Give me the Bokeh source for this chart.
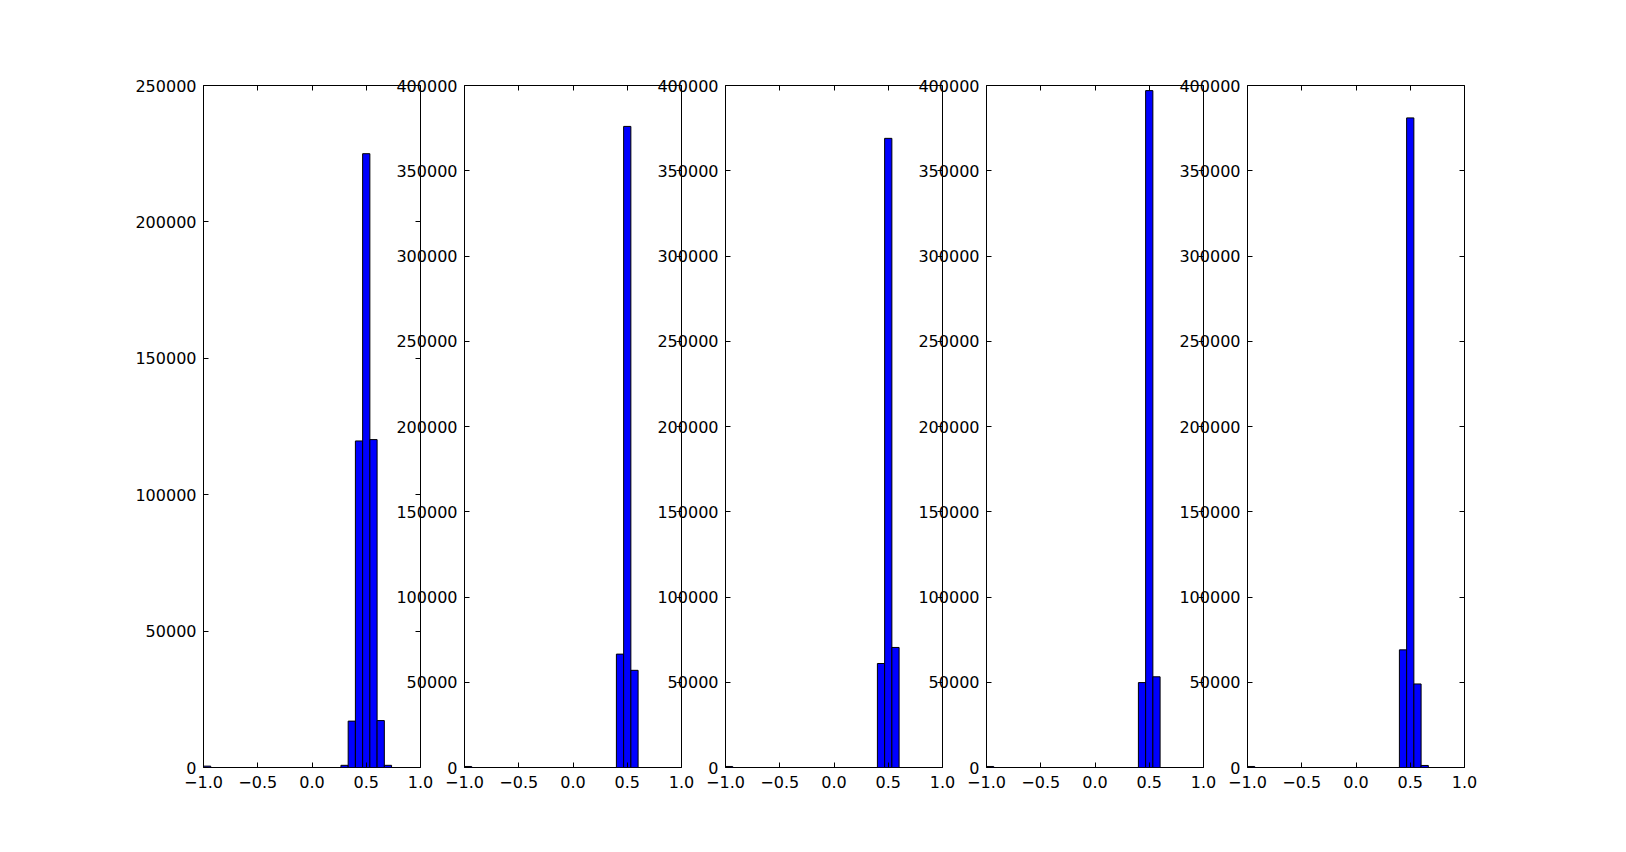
import numpy as np
from bokeh.plotting import figure
from bokeh.layouts import row
from bokeh.models import Range1d, LinearAxis, FixedTicker, ColumnDataSource
from bokeh.embed import file_html
from bokeh.resources import INLINE

# ---- data (histogram counts, 30 bins over [-1, 1]) ----
n_bins = 30
bin_range = (-1.0, 1.0)
bin_index = [0, 19, 20, 21, 22, 23, 24, 25]
counts_1 = [500, 800, 17000, 119700, 225000, 120200, 17200, 800]
counts_2 = [600, 0, 0, 66500, 376000, 57000, 0, 0]
counts_3 = [600, 0, 0, 61000, 369000, 70400, 0, 0]
counts_4 = [600, 0, 0, 49800, 397000, 53200, 0, 0]
counts_5 = [600, 0, 0, 69000, 381000, 49000, 1200, 0]
all_counts = [counts_1, counts_2, counts_3, counts_4, counts_5]
y_max = [250000, 400000, 400000, 400000, 400000]
x_ticks = [-1.0, -0.5, 0.0, 0.5, 1.0]
x_tick_labels = ["\u22121.0", "\u22120.5", "0.0", "0.5", "1.0"]
y_step = 50000

FONT = "DejaVu Sans"
FS = "16px"
FRAME_W, FRAME_H = 217, 682
TICK = 5

edges = np.linspace(bin_range[0], bin_range[1], n_bins + 1)


def style_axis(ax, ticks, labels, show, standoff=6):
    ax.ticker = FixedTicker(ticks=ticks)
    ax.major_label_overrides = {t: (l if show else "") for t, l in zip(ticks, labels)}
    ax.major_tick_in = TICK
    ax.major_tick_out = 0
    ax.minor_tick_line_color = None
    ax.axis_line_color = None
    ax.major_tick_line_color = "black"
    ax.major_tick_line_width = 1
    ax.major_label_text_font = FONT
    ax.major_label_text_font_size = FS
    ax.major_label_text_color = "black"
    ax.major_label_standoff = standoff


figs = []
for i, counts in enumerate(all_counts):
    first = i == 0
    p = figure(
        frame_width=FRAME_W, frame_height=FRAME_H,
        x_range=Range1d(bin_range[0], bin_range[1]),
        y_range=Range1d(0, y_max[i]),
        output_backend="svg", toolbar_location=None,
        x_axis_location=None, y_axis_location=None,
        min_border_left=203 if first else 80,
        min_border_right=16, min_border_top=85, min_border_bottom=40,
    )
    p.grid.visible = False
    p.outline_line_color = "black"
    p.outline_line_width = 1
    p.outline_line_alpha = 1
    p.background_fill_color = "white"
    p.border_fill_color = "white" if first else None
    if not first:
        p.margin = (0, 0, 0, -52)

    yt = list(range(0, y_max[i] + 1, y_step))
    ytl = [str(v) for v in yt]

    left = LinearAxis()
    style_axis(left, yt, ytl, True, 7)
    right = LinearAxis()
    style_axis(right, yt, ytl, False)
    below = LinearAxis()
    style_axis(below, x_ticks, x_tick_labels, True, 8)
    above = LinearAxis()
    style_axis(above, x_ticks, x_tick_labels, False)
    p.add_layout(left, "left")
    p.add_layout(right, "right")
    p.add_layout(below, "below")
    p.add_layout(above, "above")

    l, r, t = [], [], []
    for b, c in zip(bin_index, counts):
        if c > 0:
            l.append(edges[b])
            r.append(edges[b + 1])
            t.append(c)
    src = ColumnDataSource(dict(left=l, right=r, top=t, bottom=[0] * len(t)))
    p.quad(left="left", right="right", top="top", bottom="bottom", source=src,
           fill_color="#0000ff", line_color="black", line_width=1)
    figs.append(p)

layout = row(*figs)
open("out.html", "w").write(file_html(layout, INLINE))
